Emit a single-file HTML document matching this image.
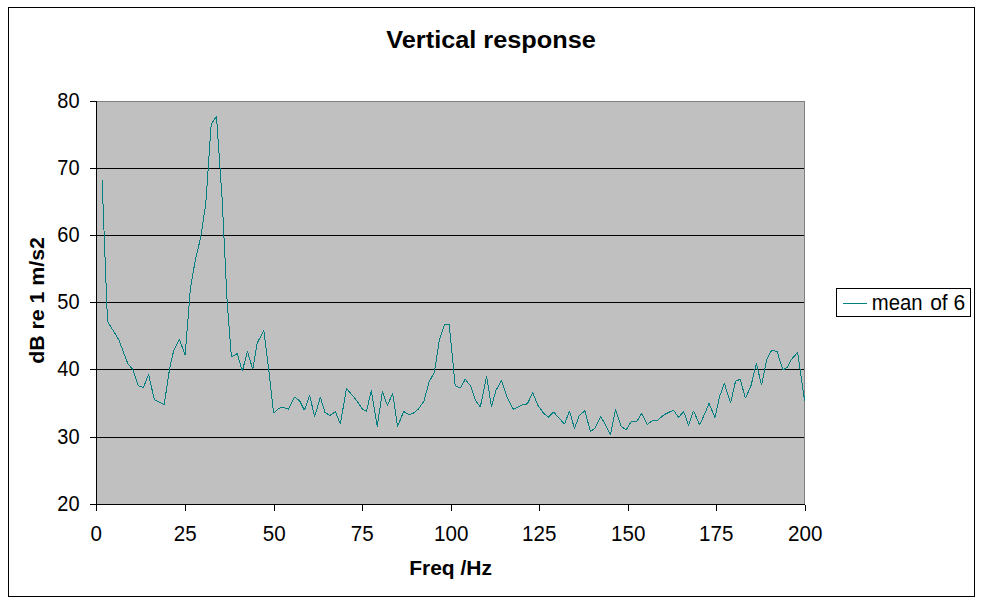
<!DOCTYPE html>
<html><head><meta charset="utf-8"><title>Vertical response</title>
<style>
html,body{margin:0;padding:0;background:#fff;}
body{width:984px;height:610px;overflow:hidden;position:relative;font-family:"Liberation Sans",sans-serif;}
svg{position:absolute;left:0;top:0;display:block;}
text{font-family:"Liberation Sans",sans-serif;fill:#000;}
.ax{font-size:20px;}
</style></head><body>
<svg width="984" height="610" viewBox="0 0 984 610">
<rect x="0" y="0" width="984" height="610" fill="#fff"/>
<g shape-rendering="crispEdges">
<rect x="8.5" y="7.5" width="966" height="589" fill="#fff" stroke="#000" stroke-width="1"/>
<rect x="96" y="101" width="709" height="404" fill="#c0c0c0"/>
<rect x="96" y="101" width="709" height="1" fill="#808080"/>
<rect x="804" y="101" width="1" height="404" fill="#808080"/>
<rect x="96" y="168" width="708" height="1" fill="#000"/>
<rect x="96" y="235" width="708" height="1" fill="#000"/>
<rect x="96" y="302" width="708" height="1" fill="#000"/>
<rect x="96" y="369" width="708" height="1" fill="#000"/>
<rect x="96" y="437" width="708" height="1" fill="#000"/>
<rect x="96" y="101" width="1" height="404" fill="#000"/>
<rect x="96" y="504" width="709" height="1" fill="#000"/>
<rect x="90" y="101" width="7" height="1" fill="#000"/>
<rect x="90" y="168" width="7" height="1" fill="#000"/>
<rect x="90" y="235" width="7" height="1" fill="#000"/>
<rect x="90" y="302" width="7" height="1" fill="#000"/>
<rect x="90" y="369" width="7" height="1" fill="#000"/>
<rect x="90" y="437" width="7" height="1" fill="#000"/>
<rect x="90" y="504" width="7" height="1" fill="#000"/>
<rect x="96" y="504" width="1" height="7" fill="#000"/>
<rect x="185" y="504" width="1" height="7" fill="#000"/>
<rect x="274" y="504" width="1" height="7" fill="#000"/>
<rect x="362" y="504" width="1" height="7" fill="#000"/>
<rect x="451" y="504" width="1" height="7" fill="#000"/>
<rect x="539" y="504" width="1" height="7" fill="#000"/>
<rect x="628" y="504" width="1" height="7" fill="#000"/>
<rect x="716" y="504" width="1" height="7" fill="#000"/>
<rect x="805" y="505" width="1" height="6" fill="#000"/>
<rect x="836.5" y="288.5" width="134" height="28" fill="#fff" stroke="#000" stroke-width="1"/>
<rect x="843" y="303" width="24" height="1" fill="#008080"/>
</g>
<polyline points="102.1,180.2 107.5,321.5 113.1,330.5 118.8,339.8 123.4,352.0 127.8,363.6 132.7,369.3 138.4,385.7 143.4,387.7 148.6,374.3 154.3,399.7 159.2,402.2 164.2,404.6 169.6,368.5 173.7,350.5 179.4,339.5 185.2,355.0 190.3,289.0 195.4,259.5 200.6,238.0 205.8,203.3 211.2,124.1 216.5,116.3 222.2,200.0 227.2,303.0 231.4,356.8 237.2,353.6 242.3,371.3 247.4,351.2 252.7,369.3 257.2,343.0 263.8,330.7 268.7,369.2 273.6,413.1 278.5,408.5 283.4,407.2 288.4,409.3 294.4,397.0 299.8,401.1 304.4,410.2 309.7,395.4 314.6,416.7 320.4,397.3 325.0,412.5 329.8,415.5 335.4,411.7 340.3,424.1 346.5,388.5 351.7,394.5 356.9,400.8 362.4,409.1 366.5,411.2 371.3,390.4 377.2,426.6 382.4,391.4 387.4,405.5 392.7,393.4 397.5,426.6 403.6,411.6 409.2,414.5 413.5,413.1 418.4,409.1 423.9,401.2 429.0,382.2 434.4,372.0 439.3,340.3 444.6,324.4 449.2,324.4 455.2,385.7 460.3,387.9 465.2,379.3 470.8,386.2 475.4,400.2 480.3,407.0 486.6,376.4 491.5,406.7 495.9,390.3 501.6,380.5 507.4,398.0 513.0,409.3 521.4,405.2 527.4,403.8 532.7,392.7 538.0,405.5 543.1,412.5 548.3,417.4 553.5,411.9 559.0,418.1 564.6,424.2 569.5,410.7 574.4,428.5 579.3,415.6 584.9,410.7 590.4,431.6 594.7,428.5 600.8,416.6 605.8,425.4 610.5,434.7 615.5,409.4 621.2,426.7 626.4,429.7 631.4,421.1 636.7,421.5 641.8,413.4 647.4,424.4 652.9,420.3 657.6,420.5 663.3,415.3 668.3,412.5 673.6,410.3 678.7,417.4 683.6,411.5 688.6,425.4 693.5,410.7 699.6,424.8 704.6,414.1 709.0,403.5 715.0,417.4 719.6,396.5 724.4,383.5 730.6,403.2 735.5,381.4 740.2,379.2 745.4,398.3 750.9,386.0 756.4,363.5 761.6,385.4 766.9,358.9 771.8,350.0 777.1,351.5 782.9,370.0 787.2,367.5 791.5,359.3 797.6,352.5 804.6,400.5" fill="none" stroke="#008080" stroke-width="1" stroke-linejoin="bevel" shape-rendering="crispEdges"/>
<text transform="translate(491.1,48) scale(1.055,1)" font-size="24" text-anchor="middle" font-weight="bold" id="title">Vertical response</text>
<text transform="translate(79.5,108) scale(1,1.07)" font-size="20" text-anchor="end">80</text>
<text transform="translate(79.5,175) scale(1,1.07)" font-size="20" text-anchor="end">70</text>
<text transform="translate(79.5,242) scale(1,1.07)" font-size="20" text-anchor="end">60</text>
<text transform="translate(79.5,309) scale(1,1.07)" font-size="20" text-anchor="end">50</text>
<text transform="translate(79.5,376) scale(1,1.07)" font-size="20" text-anchor="end">40</text>
<text transform="translate(79.5,444) scale(1,1.07)" font-size="20" text-anchor="end">30</text>
<text transform="translate(79.5,511) scale(1,1.07)" font-size="20" text-anchor="end">20</text>
<text transform="translate(96.3,541) scale(1.03,1.07)" font-size="20" text-anchor="middle">0</text>
<text transform="translate(185.3,541) scale(1.03,1.07)" font-size="20" text-anchor="middle">25</text>
<text transform="translate(274.3,541) scale(1.03,1.07)" font-size="20" text-anchor="middle">50</text>
<text transform="translate(362.3,541) scale(1.03,1.07)" font-size="20" text-anchor="middle">75</text>
<text transform="translate(451.3,541) scale(1.03,1.07)" font-size="20" text-anchor="middle">100</text>
<text transform="translate(539.3,541) scale(1.03,1.07)" font-size="20" text-anchor="middle">125</text>
<text transform="translate(628.3,541) scale(1.03,1.07)" font-size="20" text-anchor="middle">150</text>
<text transform="translate(716.3,541) scale(1.03,1.07)" font-size="20" text-anchor="middle">175</text>
<text transform="translate(805.3,541) scale(1.03,1.07)" font-size="20" text-anchor="middle">200</text>
<text transform="translate(450.6,575.1)" font-size="21" text-anchor="middle" font-weight="bold" id="xt">Freq /Hz</text>
<text transform="translate(44.4,300.5) rotate(-90) scale(1.015,1)" font-size="21" text-anchor="middle" font-weight="bold" id="yt">dB re 1 m/s2</text>
<text transform="translate(871.8,310) scale(1.015,1.07)" font-size="20" id="lg">mean</text>
<text transform="translate(930.2,310) scale(1.05,1.07)" font-size="20" id="lg2">of 6</text>
</svg>
</body></html>
